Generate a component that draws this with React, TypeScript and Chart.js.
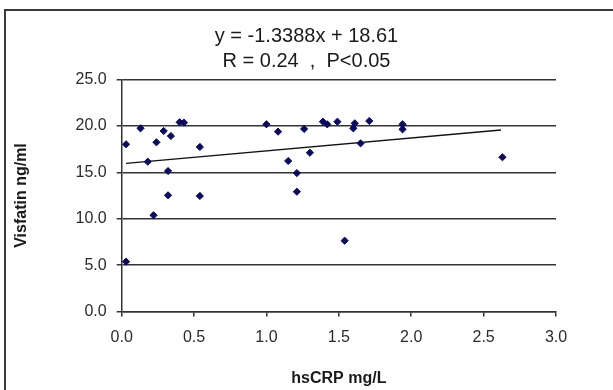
import React, { useEffect, useRef } from "react";
import { Chart, registerables } from "chart.js";

Chart.register(...registerables);

const titleLines = ["y = -1.3388x + 18.61", "R = 0.24  ,  P<0.05"];
const xAxisTitle = "hsCRP mg/L";
const yAxisTitle = "Visfatin ng/ml";

const hsCRP = [
  0.03, 0.03, 0.13, 0.18, 0.22, 0.24, 0.29, 0.34, 0.32, 0.32, 0.4, 0.43, 0.54, 0.54,
  1.0, 1.08, 1.15, 1.21, 1.21, 1.26, 1.3, 1.39, 1.42, 1.49, 1.54, 1.6, 1.61, 1.65,
  1.71, 1.94, 1.94, 2.63,
];
const visfatin = [
  18.02, 5.37, 19.74, 16.14, 10.37, 18.23, 19.45, 18.91, 15.14, 12.52, 20.39, 20.35,
  17.73, 12.45, 20.17, 19.38, 16.22, 14.92, 12.91, 19.67, 17.11, 20.45, 20.17, 20.45,
  7.63, 19.74, 20.28, 18.12, 20.53, 20.17, 19.63, 16.62,
];

const trendX = [0.03, 2.62];
const trendY = [15.97, 19.56];

const FONT = "'Liberation Sans', Arial, sans-serif";

const framePlugin = {
  id: "frame",
  beforeDraw(chart: any) {
    const ctx = chart.ctx;
    ctx.save();
    ctx.fillStyle = "#ffffff";
    ctx.fillRect(0, 0, chart.width, chart.height);
    ctx.strokeStyle = "#3a3a3a";
    ctx.lineWidth = 2;
    ctx.strokeRect(5, 10, 800, 600);
    ctx.restore();
  },
};

export default function App() {
  const ref = useRef<HTMLCanvasElement | null>(null);

  useEffect(() => {
    if (!ref.current) return;
    const chart = new Chart(ref.current, {
      type: "scatter",
      data: {
        datasets: [
          {
            type: "scatter",
            data: hsCRP.map((x, i) => ({ x, y: visfatin[i] })),
            pointStyle: "rectRot",
            pointRadius: 3.6,
            pointHoverRadius: 3.6,
            backgroundColor: "#0a0a5e",
            borderColor: "#0a0a5e",
            borderWidth: 1,
          },
          {
            type: "line",
            data: trendX.map((x, i) => ({ x, y: trendY[i] })),
            borderColor: "#111111",
            borderWidth: 1.3,
            pointRadius: 0,
            fill: false,
          } as any,
        ],
      },
      options: {
        responsive: false,
        animation: false,
        devicePixelRatio: 1,
        layout: { padding: 0 },
        plugins: {
          legend: { display: false },
          tooltip: { enabled: false },
          title: {
            display: true,
            text: titleLines,
            color: "#1a1a1a",
            font: { family: FONT, size: 20, weight: "normal", lineHeight: 1.25 },
            padding: { top: 24, bottom: 5.5 },
          },
        },
        scales: {
          x: {
            type: "linear",
            min: 0,
            max: 3,
            ticks: {
              stepSize: 0.5,
              color: "#2a2a2a",
              padding: 11.6,
              font: { family: FONT, size: 16 },
              callback: (v: any) => Number(v).toFixed(1),
            },
            grid: {
              drawOnChartArea: false,
              drawTicks: true,
              tickLength: 5,
              color: "#333333",
              lineWidth: 1.5,
            },
            border: { display: true, color: "#333333", width: 1.5 },
            title: {
              display: true,
              text: xAxisTitle,
              color: "#1a1a1a",
              font: { family: FONT, size: 16, weight: "bold" },
              padding: { top: 0, bottom: 1.4 },
            },
            afterFit(scale: any) {
              scale.height = 78.5;
            },
          },
          y: {
            type: "linear",
            min: 0,
            max: 25,
            ticks: {
              stepSize: 5,
              color: "#2a2a2a",
              padding: 10,
              font: { family: FONT, size: 16 },
              callback: (v: any) => Number(v).toFixed(1),
            },
            grid: {
              drawOnChartArea: true,
              drawTicks: true,
              tickLength: 5,
              color: "#333333",
              lineWidth: 1.5,
            },
            border: { display: true, color: "#333333", width: 1.5 },
            title: {
              display: true,
              text: yAxisTitle,
              color: "#1a1a1a",
              font: { family: FONT, size: 16, weight: "bold" },
              padding: { top: 12.4, bottom: 0 },
            },
            afterFit(scale: any) {
              scale.width = 121.7;
            },
          },
          spacer: {
            type: "linear",
            position: "right",
            display: true,
            min: 0,
            max: 25,
            ticks: { display: false },
            grid: { display: false, drawTicks: false },
            border: { display: false },
            title: { display: false },
            afterFit(scale: any) {
              scale.width = 57;
            },
          },
        },
      } as any,
      plugins: [framePlugin],
    });
    return () => chart.destroy();
  }, []);

  return (
    <div style={{ position: "absolute", left: 0, top: 0, width: 613, height: 390 }}>
      <canvas ref={ref} width={613} height={390} style={{ width: 613, height: 390 }} />
    </div>
  );
}
